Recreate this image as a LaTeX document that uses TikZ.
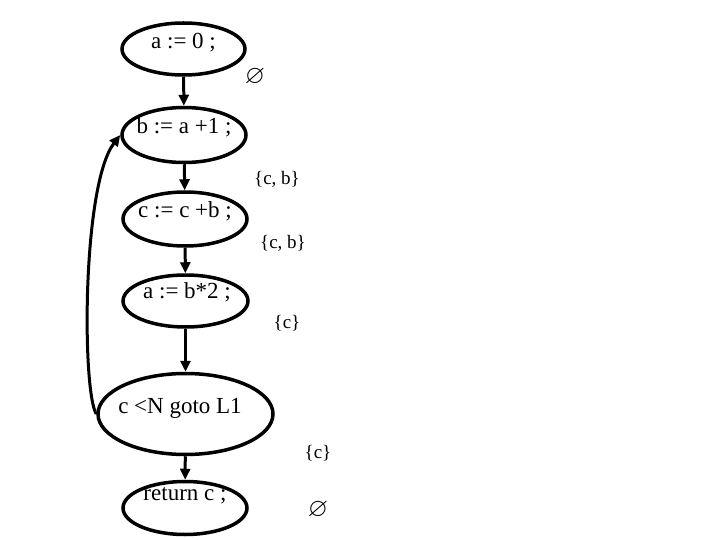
\documentclass[tikz,border=0pt]{standalone}
\usepackage{amssymb}
\usepackage{fontspec}
\setmainfont{Liberation Serif}
\usetikzlibrary{shapes.geometric,arrows.meta}
\tikzset{
  stmt/.style={draw, ellipse, line width=3.5pt, inner sep=0pt},
  code/.style={inner sep=0pt, anchor=base, font=\fontsize{23}{25}\selectfont},
  live/.style={font=\fontsize{19}{21}\selectfont},
  empt/.style={font=\fontsize{26}{28}\selectfont},
  flow/.style={line width=3pt, -{Triangle[length=11pt,width=10pt]}}
}
\begin{document}
\begin{tikzpicture}[x=1pt,y=-1pt]
\useasboundingbox (0,0) rectangle (720,540);
\node[stmt, minimum width=123pt, minimum height=52pt] (s1) at (183.5,49) {};
\node[stmt, minimum width=124pt, minimum height=55pt] (s2) at (184,135) {};
\node[stmt, minimum width=124pt, minimum height=54pt] (s3) at (185,219) {};
\node[stmt, minimum width=125pt, minimum height=52pt] (s4) at (185.5,301) {};
\node[stmt, minimum width=175pt, minimum height=81pt] (s5) at (185.5,414) {};
\node[stmt, minimum width=124pt, minimum height=53pt] (s6) at (185,508) {};
\node[code] (t1) at (183.5,49) {a := 0 ;};
\node[code] (t2) at (184,134) {b := a +1 ;};
\node[code] (t3) at (185,218) {c := c +b ;};
\node[code] (t4) at (187,298) {a := b*2 ;};
\node[code] (t5) at (180,413) {c <N goto L1};
\node[code] (t6) at (185,500) {return c ;};
\draw[flow] (s1) -- (s2);
\draw[flow] (s2) -- (s3);
\draw[flow] (s3) -- (s4);
\draw[flow] (s4) -- (s5);
\draw[flow] (s5) -- (s6);
\draw[flow] (s5.west) .. controls (82,390) and (82,185) .. (s2.west);
\node[empt] (l1) at (255,77) {$\varnothing$};
\node[live] (l2) at (277,179) {\{c, b\}};
\node[live] (l3) at (283,243) {\{c, b\}};
\node[live] (l4) at (287,323) {\{c\}};
\node[live] (l5) at (318,453) {\{c\}};
\node[empt] (l6) at (318,510) {$\varnothing$};
\end{tikzpicture}
\end{document}
